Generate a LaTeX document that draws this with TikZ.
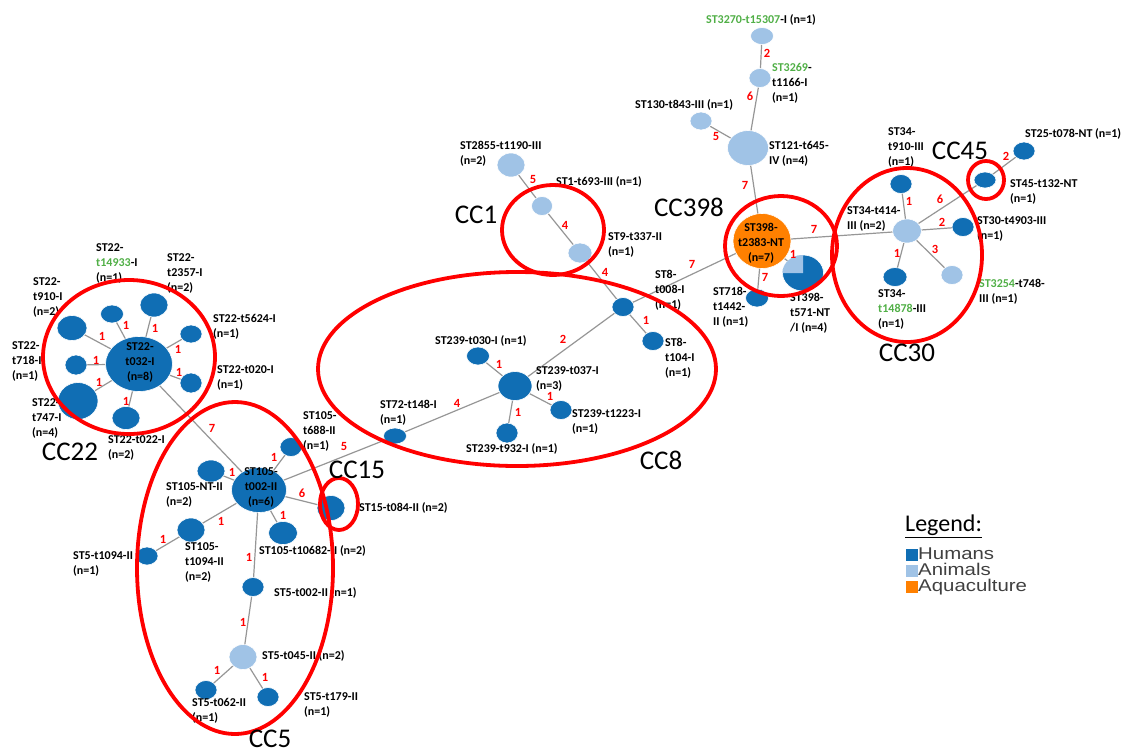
\documentclass[tikz,border=0pt]{standalone}
\usepackage{fontspec}
\setmainfont{Carlito}
\newfontfamily\legfont{Liberation Sans}
\usetikzlibrary{shapes.geometric,backgrounds}
\definecolor{hum}{RGB}{16,110,180}
\definecolor{ani}{RGB}{160,195,230}
\definecolor{aqu}{RGB}{255,128,0}
\definecolor{grn}{RGB}{80,175,70}
\definecolor{edg}{RGB}{150,150,150}
\begin{document}
\begin{tikzpicture}[x=1pt,y=-1pt,
 nd/.style 2 args={ellipse, inner sep=0pt, minimum width=#1pt, minimum height=#2pt, draw=white, line width=0.6pt},
 H/.style={fill=hum}, A/.style={fill=ani}, Q/.style={fill=aqu},
 lbl/.style={font=\bfseries\fontsize{12}{15}\selectfont, align=left, inner sep=0pt, anchor=west},
 inl/.style={font=\bfseries\fontsize{12}{15}\selectfont, align=center, inner sep=0pt},
 el/.style={font=\bfseries\fontsize{12.5}{13}\selectfont, text=red, inner sep=0pt},
 cc/.style={font=\fontsize{27}{30}\selectfont, inner sep=0pt},
 ring/.style={draw=red, line width=3.8pt},
 link/.style={draw=edg, line width=1.2pt},
 legt/.style={anchor=west, inner sep=0pt, text height=11pt, text depth=3pt, font=\legfont\fontsize{17}{17}\selectfont, text=black!75}]
\useasboundingbox (0,0) rectangle (1123,753);

% ---- nodes ----
\node[nd={23}{17},A] (n3270) at (762,36) {};
\node[nd={22}{19},A] (n3269) at (760,78) {};
\node[nd={22}{18},A] (n130) at (701,121) {};
\node[nd={41}{35},A] (n121) at (748,148) {};
\node[nd={58}{55},Q] (n398) at (762,241) {};
\node[nd={41}{36},H] (n571) at (803,273) {};
\fill[ani] (n571.center) -- ++(-20.5,0) arc[start angle=180,end angle=270,x radius=20.5,y radius=18] -- cycle;
\node[nd={23}{18},H] (n718) at (757,298) {};
\node[nd={29}{24},A] (n414) at (907,231) {};
\node[nd={22}{19},H] (n910) at (901,184) {};
\node[nd={22}{16},H] (n45) at (985,180) {};
\node[nd={22}{18},H] (n25) at (1024,151) {};
\node[nd={22}{19},H] (n4903) at (963,227) {};
\node[nd={22}{19},A] (n3254) at (952,275) {};
\node[nd={24}{19},H] (n14878) at (895,277) {};
\node[nd={28}{24},A] (n2855) at (511,165) {};
\node[nd={21}{19},A] (n1) at (542,206) {};
\node[nd={24}{20},A] (n9) at (580,253) {};
\node[nd={22}{19},H] (n8a) at (623,307) {};
\node[nd={22}{19},H] (n8b) at (653,341) {};
\node[nd={34}{29},H] (n239) at (515,386) {};
\node[nd={23}{18},H] (n030) at (478,356) {};
\node[nd={22}{19},H] (n1223) at (561,410) {};
\node[nd={22}{20},H] (n932) at (507,433) {};
\node[nd={23}{16},H] (n72) at (395,436) {};
\node[nd={67}{55},H] (n22) at (139,364) {};
\node[nd={23}{18},H] (n14933) at (112,314) {};
\node[nd={28}{24},H] (n2357) at (154,305) {};
\node[nd={22}{18},H] (n5624) at (191,334) {};
\node[nd={22}{20},H] (n020) at (191,383) {};
\node[nd={28}{23},H] (n022) at (126,418) {};
\node[nd={40}{37},H] (n747) at (78,401) {};
\node[nd={22}{20},H] (n718b) at (76,365) {};
\node[nd={30}{25},H] (n910b) at (72,328) {};
\node[nd={55}{45},H] (n105) at (259,490) {};
\node[nd={22}{19},H] (n688) at (291,447) {};
\node[nd={28}{22},H] (nNT) at (211,471) {};
\node[nd={28}{24},H] (n1094) at (191,530) {};
\node[nd={22}{18},H] (n51094) at (147,556) {};
\node[nd={29}{23},H] (n10682) at (283,533) {};
\node[nd={28}{25},H] (n15) at (331,508) {};
\node[nd={22}{19},H] (n5002) at (253,587) {};
\node[nd={28}{25},A] (n5045) at (243,657) {};
\node[nd={22}{19},H] (n062) at (206,690) {};
\node[nd={22}{19},H] (n179) at (268,697) {};

% ---- connectors ----
\begin{scope}[on background layer]
\foreach \a/\b in {n3270/n3269, n3269/n121, n130/n121, n121/n398, n398/n571, n398/n718, n398/n414, n398/n8a,
  n414/n910, n414/n45, n45/n25, n414/n4903, n414/n3254, n414/n14878,
  n2855/n1, n1/n9, n9/n8a, n8a/n8b, n8a/n239, n239/n030, n239/n1223, n239/n932, n239/n72, n72/n105,
  n105/n22, n22/n14933, n22/n2357, n22/n5624, n22/n020, n22/n022, n22/n747, n22/n718b, n22/n910b,
  n105/n688, n105/nNT, n105/n1094, n1094/n51094, n105/n10682, n105/n15, n105/n5002, n5002/n5045,
  n5045/n062, n5045/n179}
  \draw[link] (\a.center) -- (\b.center);
\end{scope}

% ---- texts inside nodes ----
\node[inl] (t398) at (761,243) {ST398-\\t2383-NT\\(n=7)};
\node[inl] (t22) at (140,362) {ST22-\\t032-I\\(n=8)};
\node[inl] (t105) at (261,487) {ST105-\\t002-II\\(n=6)};

% ---- labels ----
\node[lbl] (l3270) at (706,20) {\textcolor{grn}{ST3270-t15307}-I (n=1)};
\node[lbl] (l3269) at (772,83) {\textcolor{grn}{ST3269}-\\t1166-I\\(n=1)};
\node[lbl] (l130) at (635,105) {ST130-t843-III (n=1)};
\node[lbl] (l121) at (769,154) {ST121-t645-\\IV (n=4)};
\node[lbl] (l718) at (713,307) {ST718-\\t1442-\\II (n=1)};
\node[lbl] (l571) at (790,313) {ST398-\\t571-NT\\/I (n=4)};
\node[lbl] (l910) at (888,147) {ST34-\\t910-III\\(n=1)};
\node[lbl] (l25) at (1025,134) {ST25-t078-NT (n=1)};
\node[lbl] (l45) at (1010,192) {ST45-t132-NT\\(n=1)};
\node[lbl] (l414) at (847,219) {ST34-t414-\\III (n=2)};
\node[lbl] (l4903) at (977,229) {ST30-t4903-III\\(n=1)};
\node[lbl] (l3254) at (979,292) {\textcolor{grn}{ST3254}-t748-\\III (n=1)};
\node[lbl] (l14878) at (878,309) {ST34-\\\textcolor{grn}{t14878}-III\\(n=1)};
\node[lbl] (l2855) at (460,154) {ST2855-t1190-III\\(n=2)};
\node[lbl] (l1) at (556,182) {ST1-t693-III (n=1)};
\node[lbl] (l9) at (608,245) {ST9-t337-II\\(n=1)};
\node[lbl] (l8a) at (655,290) {ST8-\\t008-I\\(n=1)};
\node[lbl] (l8b) at (665,358) {ST8-\\t104-I\\(n=1)};
\node[lbl] (l030) at (435,341) {ST239-t030-I (n=1)};
\node[lbl] (l239) at (536,379) {ST239-t037-I\\(n=3)};
\node[lbl] (l1223) at (572,422) {ST239-t1223-I\\(n=1)};
\node[lbl] (l932) at (466,449) {ST239-t932-I (n=1)};
\node[lbl] (l72) at (380,413) {ST72-t148-I\\(n=1)};
\node[lbl] (l14933) at (96,263) {ST22-\\\textcolor{grn}{t14933}-I\\(n=1)};
\node[lbl] (l2357) at (167,273) {ST22-\\t2357-I\\(n=2)};
\node[lbl] (l910b) at (33,297) {ST22-\\t910-I\\(n=2)};
\node[lbl] (l5624) at (213,327) {ST22-t5624-I\\(n=1)};
\node[lbl] (l718b) at (12,361) {ST22-\\t718-I\\(n=1)};
\node[lbl] (l020) at (217,378) {ST22-t020-I\\(n=1)};
\node[lbl] (l747) at (32,418) {ST22-\\t747-I\\(n=4)};
\node[lbl] (l022) at (108,448) {ST22-t022-I\\(n=2)};
\node[lbl] (l688) at (303,431) {ST105-\\t688-II\\(n=1)};
\node[lbl] (lNT) at (166,495) {ST105-NT-II\\(n=2)};
\node[lbl] (l1094) at (185,562) {ST105-\\t1094-II\\(n=2)};
\node[lbl] (l51094) at (73,564) {ST5-t1094-II\\(n=1)};
\node[lbl] (l10682) at (259,551) {ST105-t10682-II (n=2)};
\node[lbl] (l15) at (359,508) {ST15-t084-II (n=2)};
\node[lbl] (l5002) at (274,593) {ST5-t002-II (n=1)};
\node[lbl] (l5045) at (262,656) {ST5-t045-II (n=2)};
\node[lbl] (l062) at (192,711) {ST5-t062-II\\(n=1)};
\node[lbl] (l179) at (304,705) {ST5-t179-II\\(n=1)};

% ---- edge weights ----
\node[el] (e1) at (767,53) {2};
\node[el] (e2) at (750,96) {6};
\node[el] (e3) at (716,136) {5};
\node[el] (e4) at (745,185) {7};
\node[el] (e5) at (814,229) {7};
\node[el] (e6) at (793,254) {1};
\node[el] (e7) at (765,277) {7};
\node[el] (e8) at (909,201) {1};
\node[el] (e9) at (940,199) {6};
\node[el] (e10) at (942,222) {2};
\node[el] (e11) at (897,253) {1};
\node[el] (e12) at (935,249) {3};
\node[el] (e13) at (1006,156) {2};
\node[el] (e14) at (533,179) {5};
\node[el] (e15) at (565,225) {4};
\node[el] (e16) at (605,272) {4};
\node[el] (e17) at (692,264) {7};
\node[el] (e18) at (646,320) {1};
\node[el] (e19) at (563,339) {2};
\node[el] (e20) at (499,364) {1};
\node[el] (e21) at (550,396) {1};
\node[el] (e22) at (518,412) {1};
\node[el] (e23) at (457,403) {4};
\node[el] (e24) at (344,446) {5};
\node[el] (e25) at (102,336) {1};
\node[el] (e26) at (126,325) {1};
\node[el] (e27) at (155,328) {1};
\node[el] (e28) at (178,349) {1};
\node[el] (e29) at (96,360) {1};
\node[el] (e30) at (99,382) {1};
\node[el] (e31) at (126,401) {1};
\node[el] (e32) at (179,372) {1};
\node[el] (e33) at (212,428) {7};
\node[el] (e34) at (274,457) {1};
\node[el] (e35) at (232,472) {1};
\node[el] (e36) at (302,493) {6};
\node[el] (e37) at (221,521) {1};
\node[el] (e38) at (283,515) {1};
\node[el] (e39) at (163,539) {1};
\node[el] (e40) at (249,557) {1};
\node[el] (e41) at (243,622) {1};
\node[el] (e42) at (217,670) {1};
\node[el] (e43) at (265,677) {1};

% ---- clonal complex rings ----
\draw[ring] (781,246) ellipse [x radius=56, y radius=50];
\draw[ring] (907,255) ellipse [x radius=75, y radius=87];
\draw[ring] (986,180) ellipse [x radius=18, y radius=19];
\draw[ring] (553,230) ellipse [x radius=51, y radius=45];
\draw[ring] (517,369) ellipse [x radius=199, y radius=97];
\draw[ring] (129,357) ellipse [x radius=86, y radius=77];
\draw[ring] (339,504) ellipse [x radius=19, y radius=26];
\draw[ring] (235,568) ellipse [x radius=98, y radius=166];

% ---- CC names ----
\node[cc] (c398) at (689,207) {CC398};
\node[cc] (c1) at (476,215) {CC1};
\node[cc] (c45) at (960,151) {CC45};
\node[cc] (c30) at (907,353) {CC30};
\node[cc] (c22) at (70,452) {CC22};
\node[cc] (c8) at (661,460) {CC8};
\node[cc] (c15) at (357,470) {CC15};
\node[cc] (c5) at (270,739) {CC5};

% ---- legend ----
\node[anchor=west, inner sep=0pt, font=\fontsize{24}{26}\selectfont] (leg) at (905,526) {\underline{Legend:}};
\node[fill=hum, minimum size=12pt, inner sep=0pt] (s1) at (912,555) {};
\node[fill=ani, minimum size=12pt, inner sep=0pt] (s2) at (912,571) {};
\node[fill=aqu, minimum size=12pt, inner sep=0pt] (s3) at (912,587) {};
\node[legt] (g1) at (918,555) {\scalebox{1.2}[1]{Humans}};
\node[legt] (g2) at (918,571) {\scalebox{1.2}[1]{Animals}};
\node[legt] (g3) at (918,587) {\scalebox{1.2}[1]{Aquaculture}};
\end{tikzpicture}
\end{document}
